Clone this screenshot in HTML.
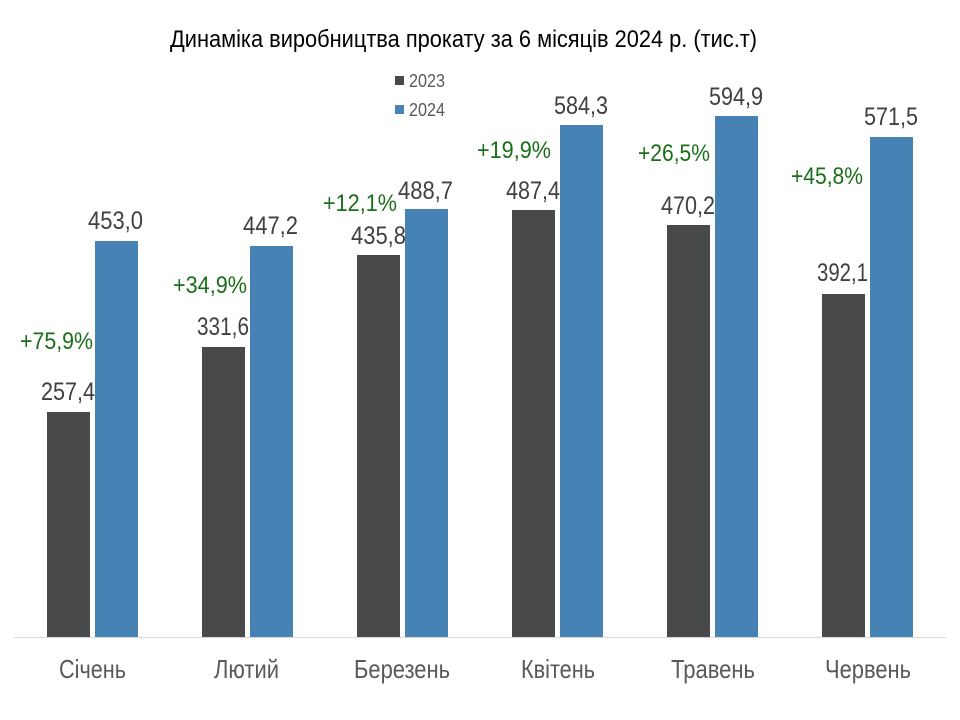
<!DOCTYPE html>
<html>
<head>
<meta charset="utf-8">
<style>
html,body{margin:0;padding:0;background:#fff;}
svg{display:block;}
text{font-family:"Liberation Sans",Arial,sans-serif;}
</style>
</head>
<body>
<svg width="960" height="720" viewBox="0 0 960 720" xmlns="http://www.w3.org/2000/svg">
<rect width="960" height="720" fill="#fff"/>
<!-- title -->
<text x="170" y="47" font-size="24" fill="#000" textLength="587" lengthAdjust="spacingAndGlyphs">Динаміка виробництва прокату за 6 місяців 2024 р. (тис.т)</text>
<!-- legend -->
<rect x="395" y="76" width="9" height="9" fill="#48494b"/>
<text x="409" y="87" font-size="18" fill="#595959" textLength="36" lengthAdjust="spacingAndGlyphs">2023</text>
<rect x="395" y="105" width="9" height="9" fill="#4682b4"/>
<text x="409" y="116" font-size="18" fill="#595959" textLength="36" lengthAdjust="spacingAndGlyphs">2024</text>
<!-- axis -->
<line x1="14" y1="637.5" x2="946" y2="637.5" stroke="#d9d9d9" stroke-width="1"/>
<!-- bars 2023 -->
<g fill="#48494b">
<rect x="47" y="412" width="43" height="225"/>
<rect x="202" y="347" width="43" height="290"/>
<rect x="357" y="255" width="43" height="382"/>
<rect x="512" y="210" width="43" height="427"/>
<rect x="667" y="225" width="43" height="412"/>
<rect x="822" y="294" width="43" height="343"/>
</g>
<!-- bars 2024 -->
<g fill="#4682b4">
<rect x="95" y="241" width="43" height="396"/>
<rect x="250" y="246" width="43" height="391"/>
<rect x="405" y="209" width="43" height="428"/>
<rect x="560" y="125" width="43" height="512"/>
<rect x="715" y="116" width="43" height="521"/>
<rect x="870" y="137" width="43" height="500"/>
</g>
<!-- value labels -->
<g font-size="25" fill="#404040">
<text x="41" y="400" textLength="54" lengthAdjust="spacingAndGlyphs">257,4</text>
<text x="88" y="229" textLength="55" lengthAdjust="spacingAndGlyphs">453,0</text>
<text x="197" y="335" textLength="52" lengthAdjust="spacingAndGlyphs">331,6</text>
<text x="243" y="234" textLength="55" lengthAdjust="spacingAndGlyphs">447,2</text>
<text x="351" y="244" textLength="55" lengthAdjust="spacingAndGlyphs">435,8</text>
<text x="398" y="199" textLength="55" lengthAdjust="spacingAndGlyphs">488,7</text>
<text x="506" y="199" textLength="54" lengthAdjust="spacingAndGlyphs">487,4</text>
<text x="554" y="114" textLength="54" lengthAdjust="spacingAndGlyphs">584,3</text>
<text x="661" y="214" textLength="54" lengthAdjust="spacingAndGlyphs">470,2</text>
<text x="709" y="105" textLength="54" lengthAdjust="spacingAndGlyphs">594,9</text>
<text x="817" y="281" textLength="51" lengthAdjust="spacingAndGlyphs">392,1</text>
<text x="864" y="125" textLength="54" lengthAdjust="spacingAndGlyphs">571,5</text>
</g>
<!-- percent labels -->
<g font-size="24" fill="#1a6e1a">
<text x="20" y="349" textLength="73" lengthAdjust="spacingAndGlyphs">+75,9%</text>
<text x="173" y="293" textLength="74" lengthAdjust="spacingAndGlyphs">+34,9%</text>
<text x="323" y="211" textLength="74" lengthAdjust="spacingAndGlyphs">+12,1%</text>
<text x="477" y="158" textLength="74" lengthAdjust="spacingAndGlyphs">+19,9%</text>
<text x="638" y="161" textLength="72" lengthAdjust="spacingAndGlyphs">+26,5%</text>
<text x="791" y="184" textLength="72" lengthAdjust="spacingAndGlyphs">+45,8%</text>
</g>
<!-- category labels -->
<g font-size="26" fill="#595959">
<text x="59" y="678" textLength="67" lengthAdjust="spacingAndGlyphs">Січень</text>
<text x="214" y="678" textLength="65" lengthAdjust="spacingAndGlyphs">Лютий</text>
<text x="354" y="678" textLength="96" lengthAdjust="spacingAndGlyphs">Березень</text>
<text x="521" y="678" textLength="74" lengthAdjust="spacingAndGlyphs">Квітень</text>
<text x="671" y="678" textLength="84" lengthAdjust="spacingAndGlyphs">Травень</text>
<text x="825" y="678" textLength="86" lengthAdjust="spacingAndGlyphs">Червень</text>
</g>
</svg>
</body>
</html>
